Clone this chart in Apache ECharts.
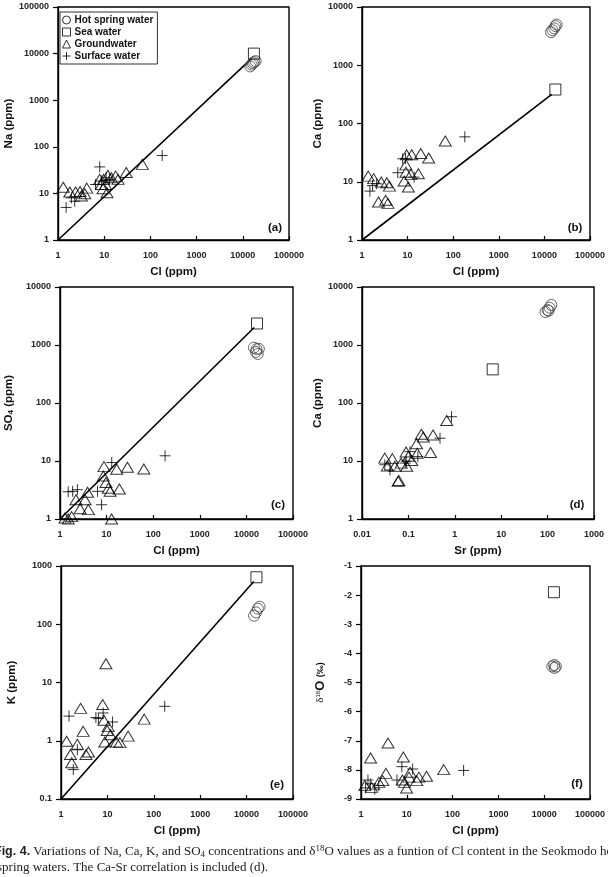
<!DOCTYPE html>
<html>
<head>
<meta charset="utf-8">
<script src="https://cdn.jsdelivr.net/npm/echarts@6/dist/echarts.min.js"></script>
<style>
  html, body { margin: 0; padding: 0; background: #fff; }
  #chart { width: 608px; height: 877px; }
</style>
</head>
<body>
<div id="chart"></div>
<script>
// legend names
const seriesNames = ['Hot spring water', 'Sea water', 'Groundwater', 'Surface water'];

// (a) Na vs Cl
const hotA = [[14500, 5300], [15500, 5800], [16500, 6200], [17500, 6600], [19000, 6900]];
const seaA = [[17400, 10000]];
const groundA = [[1.3, 13.5], [1.8, 10.7], [2.4, 10.7], [3.0, 11], [3.2, 8.8], [3.8, 9.8], [4.2, 13], [8, 20], [8.7, 15.5], [9.4, 12.6], [9.7, 20], [10.7, 15.5], [11.5, 10.3], [12, 24.6], [14.3, 21.7], [17.7, 23.5], [20, 20], [30, 28], [67, 42]];
const surfaceA = [[1.5, 5], [1.95, 8], [2.3, 6.8], [6.5, 15.5], [8, 37], [8.7, 18.4], [11, 21.7], [13, 20], [180, 65]];
const lineA = [[1, 1], [15200, 7700]];

// (b) Ca vs Cl
const hotB = [[14000, 3700], [15000, 4000], [16500, 4300], [17500, 4700], [18500, 5000]];
const seaB = [[17400, 383]];
const groundB = [[1.37, 12.5], [1.8, 11.3], [2.3, 4.5], [2.65, 9.9], [3.3, 4.8], [3.5, 9.6], [3.7, 4.25], [4, 8.4], [8.4, 10.3], [9.2, 14.6], [9.2, 19.5], [9.5, 29], [10.4, 8.1], [11.8, 13.4], [12.3, 29], [17.2, 13.7], [19.4, 30.5], [29, 25.5], [67, 50]];
const surfaceB = [[1.49, 6.9], [1.7, 8.6], [2.1, 9.2], [6.1, 14.3], [7.8, 24.8], [9, 25], [13.9, 12], [180, 59]];
const lineB = [[1, 1], [14500, 315]];

// (c) SO4 vs Cl
const hotC = [[14500, 900], [16000, 760], [16500, 850], [17500, 700], [18500, 860]];
const seaC = [[16900, 2350]];
const groundC = [[1.28, 1.04], [1.5, 1.0], [1.78, 1.1], [2.2, 2.15], [2.7, 1.5], [3.45, 2.15], [3.9, 2.9], [4.06, 1.45], [8.5, 5.5], [8.8, 8], [9.7, 4.25], [10.9, 3.4], [11.9, 3.0], [12.8, 1.0], [16.5, 7.2], [18.8, 3.3], [28, 7.8], [63, 7.3]];
const surfaceC = [[1.5, 2.95], [1.87, 3.0], [2.36, 3.2], [6.4, 3.0], [7.8, 1.76], [12.9, 9.4], [180, 12.3]];
const lineC = [[1, 1], [14700, 2000]];

// (d) Ca vs Sr
const hotD = [[90, 3700], [100, 4000], [105, 3900], [110, 4400], [120, 4900]];
const seaD = [[6.55, 380]];
const groundD = [[0.031, 11.2], [0.035, 8.2], [0.045, 11], [0.051, 8.1], [0.06, 4.45], [0.062, 4.6], [0.07, 9.2], [0.089, 14.3], [0.092, 8.1], [0.1, 11.9], [0.118, 10.2], [0.15, 19.8], [0.155, 13.6], [0.19, 29], [0.21, 26], [0.3, 14], [0.34, 28], [0.67, 50]];
const surfaceD = [[0.031, 8.6], [0.04, 7], [0.085, 9.2], [0.09, 10], [0.108, 14.5], [0.16, 11.9], [0.48, 24.7], [0.85, 58]];

// (e) K vs Cl
const hotE = [[14500, 140], [16000, 160], [17500, 185], [19000, 200]];
const seaE = [[16300, 640]];
const groundE = [[1.32, 0.98], [1.6, 0.58], [1.7, 0.42], [2.25, 0.87], [2.65, 3.6], [3.0, 1.45], [3.45, 0.58], [3.9, 0.64], [7.9, 4.2], [8.4, 2.25], [8.8, 0.95], [9.3, 21], [9.9, 1.5], [10.4, 1.75], [11.7, 1.27], [15.7, 0.95], [18.6, 0.93], [28, 1.2], [62, 2.35]];
const surfaceE = [[1.49, 2.65], [1.84, 0.32], [2.25, 0.7], [5.65, 2.5], [6.4, 2.4], [8.1, 3.0], [12.9, 2.1], [172, 3.9]];
const lineE = [[1, 0.1], [14300, 540]];

// (f) d18O vs Cl
const hotF = [[15000, -4.45], [16500, -4.4], [17000, -4.5], [18000, -4.45]];
const seaF = [[16300, -1.9]];
const groundF = [[1.22, -8.54], [1.62, -7.59], [1.7, -8.6], [2.44, -8.43], [2.98, -8.37], [3.5, -8.12], [3.9, -7.08], [8.0, -8.35], [8.4, -7.56], [8.9, -8.43], [9.9, -8.62], [11.2, -8.25], [11.8, -8.08], [16.4, -8.37], [18.4, -8.25], [27, -8.22], [64, -7.99]];
const surfaceF = [[1.26, -8.62], [1.42, -8.35], [1.6, -8.48], [2.0, -8.66], [2.44, -8.54], [6.1, -8.35], [7.8, -7.89], [13.4, -7.97], [174, -8.02]];

const panelLabels = ['(a)', '(b)', '(c)', '(d)', '(e)', '(f)'];

const FONT = '"Liberation Sans", Arial, sans-serif';
const SERIF = '"Liberation Serif", "Times New Roman", serif';
const PLUS = 'path://M5,0V10M0,5H10';

const chart = echarts.init(document.getElementById('chart'));

const grids = [
  { left: 58, top: 7, width: 231, height: 233 },
  { left: 362, top: 7, width: 232, height: 233 },
  { left: 60, top: 287, width: 233, height: 232 },
  { left: 362, top: 287, width: 232, height: 232 },
  { left: 61, top: 566, width: 232, height: 233 },
  { left: 361, top: 566, width: 233, height: 233 }
].map(g => Object.assign(g, { show: true, borderColor: '#000', borderWidth: 1.4 }));

const fmt = v => String(+(+v).toPrecision(6));

function xAxis(gi, min, max, name) {
  return {
    type: 'log', logBase: 10, gridIndex: gi, min, max,
    name, nameLocation: 'middle', nameGap: 26,
    nameTextStyle: { fontFamily: FONT, fontWeight: 'bold', fontSize: 11.5, color: '#111' },
    axisLine: { lineStyle: { color: '#000', width: 1.4 } },
    axisTick: { inside: true, length: 4, lineStyle: { color: '#000', width: 1.2 } },
    axisLabel: { margin: 11, fontFamily: FONT, fontWeight: 'bold', fontSize: 9, color: '#222', formatter: fmt },
    splitLine: { show: false }
  };
}

function yAxis(gi, min, max, name, gap, extra) {
  return Object.assign({
    type: 'log', logBase: 10, gridIndex: gi, min, max,
    name, nameLocation: 'middle', nameGap: gap,
    nameTextStyle: { fontFamily: FONT, fontWeight: 'bold', fontSize: 11.5, color: '#111' },
    axisLine: { lineStyle: { color: '#000', width: 1.4 } },
    axisTick: { inside: false, length: 5, lineStyle: { color: '#000', width: 1.2 } },
    axisLabel: { margin: 9, fontFamily: FONT, fontWeight: 'bold', fontSize: 9, color: '#222', formatter: fmt },
    splitLine: { show: false }
  }, extra || {});
}

function pts(gi, name, data, symbol, size, color) {
  return {
    type: 'scatter', name, xAxisIndex: gi, yAxisIndex: gi, data, symbol, symbolSize: size,
    itemStyle: { color: 'rgba(0,0,0,0)', borderColor: color, borderWidth: 1 },
    emphasis: { disabled: true }, z: 3
  };
}

function line(gi, data) {
  return {
    type: 'line', name: 'mixing', xAxisIndex: gi, yAxisIndex: gi, data,
    symbol: 'none', lineStyle: { color: '#000', width: 1.6 }, z: 2, silent: true
  };
}

function panel(gi, hot, sea, ground, surface, mix) {
  const s = [
    pts(gi, seriesNames[0], hot, 'circle', 11, '#444'),
    pts(gi, seriesNames[1], sea, 'rect', 11, '#000'),
    pts(gi, seriesNames[2], ground, 'triangle', [12, 10], '#000'),
    pts(gi, seriesNames[3], surface, PLUS, 11, '#000')
  ];
  if (mix) s.unshift(line(gi, mix));
  return s;
}

const subRich = {
  sub: { fontFamily: FONT, fontWeight: 'bold', fontSize: 8, padding: [5, 0, 0, 0] }
};
const d18Rich = {
  d: { fontFamily: SERIF, fontSize: 11, color: '#111' },
  s: { fontFamily: FONT, fontSize: 6, color: '#111', padding: [0, 0, 5, 0] },
  o: { fontFamily: FONT, fontWeight: 'bold', fontSize: 13, color: '#111' },
  p: { fontFamily: FONT, fontWeight: 'bold', fontSize: 9, color: '#111' }
};

const legendItem = (name, icon) => ({
  name, icon, itemStyle: { color: 'rgba(0,0,0,0)', borderColor: '#000', borderWidth: 1 }
});

const graphics = [
  [275, 228], [575, 228], [278, 505], [577, 505], [277, 785], [577, 784]
].map((p, i) => ({
  type: 'text', x: p[0], y: p[1],
  style: { text: panelLabels[i], fontFamily: FONT, fontWeight: 'bold', fontSize: 11.5, fill: '#111', align: 'center', verticalAlign: 'middle' }
}));

graphics.push({
  type: 'text', x: -6, y: 852,
  style: {
    text: '{b|Fig. 4.} Variations of Na, Ca, K, and SO{sub|4} concentrations and δ{sup|18}O values as a funtion of Cl content in the Seokmodo hot',
    fontFamily: SERIF, fontSize: 13, fill: '#222', verticalAlign: 'middle',
    rich: {
      b: { fontFamily: FONT, fontWeight: 'bold', fontSize: 12.5, fill: '#222' },
      sub: { fontFamily: SERIF, fontSize: 9, padding: [6, 0, 0, 0], fill: '#222' },
      sup: { fontFamily: SERIF, fontSize: 9, padding: [0, 0, 6, 0], fill: '#222' }
    }
  }
});
graphics.push({
  type: 'text', x: -3, y: 868,
  style: {
    text: 'spring waters. The Ca-Sr correlation is included (d).',
    fontFamily: SERIF, fontSize: 13, fill: '#222', verticalAlign: 'middle'
  }
});

const option = {
  animation: false,
  backgroundColor: '#fff',
  grid: grids,
  legend: {
    left: 60, top: 12, orient: 'vertical',
    itemWidth: 8, itemHeight: 8, itemGap: 2,
    padding: [3, 4, 3, 2],
    borderColor: '#333', borderWidth: 1,
    selectedMode: false,
    textStyle: { fontFamily: FONT, fontWeight: 'bold', fontSize: 10, color: '#111', padding: [0, 0, 0, -1] },
    data: [
      legendItem(seriesNames[0], 'circle'),
      legendItem(seriesNames[1], 'rect'),
      legendItem(seriesNames[2], 'triangle'),
      legendItem(seriesNames[3], PLUS)
    ]
  },
  xAxis: [
    xAxis(0, 1, 100000, 'Cl (ppm)'),
    xAxis(1, 1, 100000, 'Cl (ppm)'),
    xAxis(2, 1, 100000, 'Cl (ppm)'),
    xAxis(3, 0.01, 1000, 'Sr (ppm)'),
    xAxis(4, 1, 100000, 'Cl (ppm)'),
    xAxis(5, 1, 100000, 'Cl (ppm)')
  ],
  yAxis: [
    yAxis(0, 1, 100000, 'Na (ppm)', 43),
    yAxis(1, 1, 10000, 'Ca (ppm)', 37),
    yAxis(2, 1, 10000, 'SO{sub|4} (ppm)', 45, {
      nameTextStyle: { fontFamily: FONT, fontWeight: 'bold', fontSize: 11.5, color: '#111', rich: subRich }
    }),
    yAxis(3, 1, 10000, 'Ca (ppm)', 37),
    yAxis(4, 0.1, 1000, 'K (ppm)', 43),
    yAxis(5, -9, -1, '{d|δ}{s|18}{o|O} {p|(‰)}', 34, {
      type: 'value', logBase: undefined, interval: 1,
      nameTextStyle: { rich: d18Rich }
    })
  ],
  series: [].concat(
    panel(0, hotA, seaA, groundA, surfaceA, lineA),
    panel(1, hotB, seaB, groundB, surfaceB, lineB),
    panel(2, hotC, seaC, groundC, surfaceC, lineC),
    panel(3, hotD, seaD, groundD, surfaceD, null),
    panel(4, hotE, seaE, groundE, surfaceE, lineE),
    panel(5, hotF, seaF, groundF, surfaceF, null)
  ),
  graphic: graphics
};

chart.setOption(option);
</script>
</body>
</html>
